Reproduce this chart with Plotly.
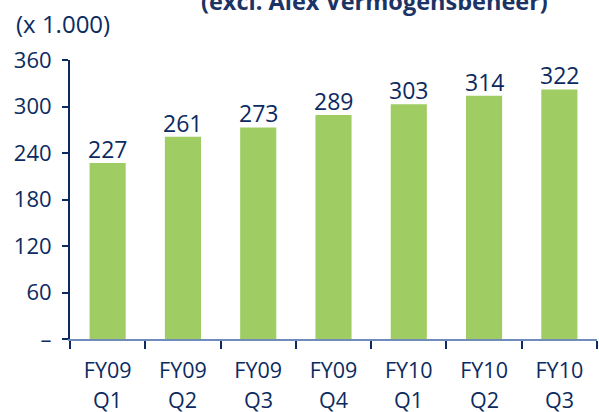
import plotly.graph_objects as go

categories = ["FY09 Q1", "FY09 Q2", "FY09 Q3", "FY09 Q4", "FY10 Q1", "FY10 Q2", "FY10 Q3"]
years = ["FY09", "FY09", "FY09", "FY09", "FY10", "FY10", "FY10"]
quarters = ["Q1", "Q2", "Q3", "Q4", "Q1", "Q2", "Q3"]
values = [227, 261, 273, 289, 303, 314, 322]
y_tick_vals = [0, 60, 120, 180, 240, 300, 360]
y_tick_text = ["–", "60", "120", "180", "240", "300", "360"]

NAVY = "#0b2b60"
GREEN = "#9fcd63"
AXIS_BLUE = "#6f8cbb"
FONT = "Open Sans"

fig = go.Figure(go.Bar(
    x=categories, y=values,
    marker=dict(color=GREEN, line=dict(width=0)),
    hoverinfo="x+y",
))

fig.update_layout(
    width=599, height=412,
    margin=dict(l=70, r=2, t=60, b=73, autoexpand=False),
    paper_bgcolor="white", plot_bgcolor="white",
    bargap=0.52,
    showlegend=False,
    font=dict(family=FONT, color=NAVY, size=22),
)
fig.update_xaxes(
    tickvals=categories, ticktext=years,
    showline=True, linecolor=AXIS_BLUE, linewidth=2,
    ticks="outside", tickson="boundaries", ticklen=8, tickcolor=NAVY, tickwidth=2,
    tickfont=dict(family=FONT, size=21.5, color=NAVY),
    ticklabelstandoff=11,
    showgrid=False, zeroline=False,
)
fig.update_yaxes(
    range=[0, 360], tickvals=y_tick_vals, ticktext=y_tick_text,
    showline=True, linecolor=NAVY, linewidth=2,
    ticks="outside", ticklen=6, tickcolor=NAVY, tickwidth=2,
    tickfont=dict(family=FONT, size=22, color=NAVY),
    ticklabelstandoff=6,
    showgrid=False, zeroline=False,
)
for cat, v in zip(categories, values):
    fig.add_annotation(
        text=str(v), x=cat, y=v, xref="x", yref="y",
        xanchor="center", yanchor="bottom", yshift=-4,
        showarrow=False, font=dict(family=FONT, size=23, color=NAVY),
    )
for cat, q in zip(categories, quarters):
    fig.add_annotation(
        text=q, x=cat, xref="x", yref="paper", y=0,
        xanchor="center", yanchor="top", yshift=-44,
        showarrow=False, font=dict(family=FONT, size=21.5, color=NAVY),
    )
fig.add_annotation(
    text="(x 1.000)", xref="paper", yref="paper", x=0, y=1,
    xanchor="left", yanchor="bottom", xshift=-56, yshift=18,
    showarrow=False, font=dict(family=FONT, size=24, color=NAVY),
)
fig.add_annotation(
    text="<b>(excl. Alex Vermogensbeheer)</b>", xref="paper", yref="paper", x=0.577, y=1,
    xanchor="center", yanchor="bottom", yshift=41,
    showarrow=False, font=dict(family=FONT, size=23.5, color="#1c3366"),
)
fig.write_html("out.html", config={"displayModeBar": False},
               post_script="document.body.style.margin='0';")
